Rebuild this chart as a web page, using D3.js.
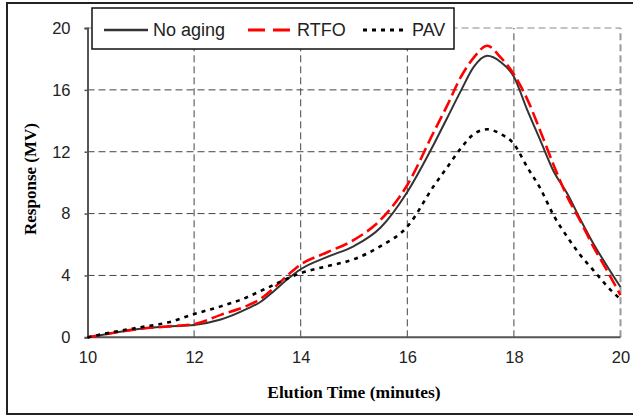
<!DOCTYPE html>
<html>
<head>
<meta charset="utf-8">
<script src="https://cdn.jsdelivr.net/npm/d3@7"></script>
<style>
  body { margin: 0; background: #fff; }
  svg text { font-family: Arial, "Liberation Sans", sans-serif; }
</style>
</head>
<body>
<div class="graph_wrapper"></div>
<script>
// elution time (minutes)
var times = [10, 10.5, 11, 11.5, 12, 12.5, 13, 13.25, 13.5, 13.75, 14, 14.5, 15, 15.5, 16, 16.5, 16.75, 17, 17.25, 17.5, 17.75, 18, 18.25, 18.5, 18.75, 19, 19.25, 19.5, 19.75, 20];
var noAging = [0, 0.3, 0.56, 0.7, 0.8, 1.15, 1.85, 2.3, 3.0, 3.75, 4.4, 5.2, 5.9, 7.1, 9.4, 12.5, 14.2, 15.9, 17.5, 18.2, 17.8, 16.85, 14.7, 12.7, 10.7, 9.3, 7.6, 6.0, 4.6, 3.25];
var rtfo = [0, 0.3, 0.55, 0.7, 0.85, 1.45, 2.05, 2.5, 3.2, 4.0, 4.7, 5.5, 6.3, 7.6, 9.85, 13.3, 15.0, 16.8, 18.1, 18.85, 18.1, 17.0, 15.4, 13.3, 11.1, 9.1, 7.5, 5.8, 4.3, 2.73];
var pav = [0, 0.35, 0.65, 0.95, 1.5, 2.0, 2.6, 3.0, 3.4, 3.8, 4.15, 4.6, 5.05, 5.9, 7.15, 9.8, 11.0, 12.2, 13.15, 13.45, 13.15, 12.5, 11.0, 9.6, 7.85, 6.5, 5.3, 4.3, 3.3, 2.45];
var seriesNames = ['No aging', 'RTFO', 'PAV'];
var xTicks = [10, 12, 14, 16, 18, 20];
var yTicks = [0, 4, 8, 12, 16, 20];

var width = 633;
var height = 416;
var margin = { left: 87.5, right: 12.5, top: 28, bottom: 78.7 };

var styles = [
  { color: '#333', width: 2, dash: null },
  { color: '#ff0000', width: 2.6, dash: '13,5' },
  { color: '#000', width: 2.6, dash: '4,5' }
];

var svg = d3.select('.graph_wrapper').append('svg')
  .attr('width', width).attr('height', height);

// outer frame
svg.append('rect').attr('x', 7).attr('y', 3).attr('width', 650).attr('height', 411)
  .attr('fill', 'none').attr('stroke', '#222').attr('stroke-width', 2);

var x = d3.scaleLinear().domain([10, 20]).range([margin.left, width - margin.right]);
var y = d3.scaleLinear().domain([0, 20]).range([height - margin.bottom, margin.top]);

// grid
svg.append('g').selectAll('line').data(yTicks.slice(1)).enter().append('line')
  .attr('x1', x(10)).attr('x2', x(20))
  .attr('y1', function (d) { return y(d); }).attr('y2', function (d) { return y(d); })
  .attr('stroke', function (d) { return d === 20 ? '#888' : '#444'; })
  .attr('stroke-width', 1).attr('stroke-dasharray', '7,4');

svg.append('g').selectAll('line').data(xTicks.slice(1)).enter().append('line')
  .attr('y1', y(0)).attr('y2', y(20))
  .attr('x1', function (d) { return x(d); }).attr('x2', function (d) { return x(d); })
  .attr('stroke', function (d) { return d === 20 ? '#999' : '#444'; })
  .attr('stroke-width', function (d) { return d === 20 ? 2 : 1; })
  .attr('stroke-dasharray', '7,4');

// axes
var yAxis = svg.append('g').attr('transform', 'translate(' + x(10) + ',0)')
  .call(d3.axisLeft(y).tickValues(yTicks).tickSize(3).tickPadding(14));
var xAxis = svg.append('g').attr('transform', 'translate(0,' + y(0) + ')')
  .call(d3.axisBottom(x).tickValues(xTicks).tickSize(0).tickPadding(14));

[yAxis, xAxis].forEach(function (a) {
  a.select('.domain').attr('stroke', '#555').attr('stroke-width', 2);
  a.selectAll('.tick line').attr('stroke', '#555').attr('stroke-width', 1.5);
  a.selectAll('text').attr('font-size', 16.5).attr('fill', '#222')
    .style('font-family', 'Arial, "Liberation Sans", sans-serif');
});
xAxis.select('.domain').attr('d', 'M' + x(10) + ',0H' + x(20));

// series
var line = d3.line()
  .x(function (d) { return x(d[0]); })
  .y(function (d) { return y(d[1]); })
  .curve(d3.curveMonotoneX);

var allSeries = [noAging, rtfo, pav];
allSeries.forEach(function (vals, i) {
  svg.append('path')
    .datum(times.map(function (t, j) { return [t, vals[j]]; }))
    .attr('d', line)
    .attr('fill', 'none')
    .attr('stroke', styles[i].color)
    .attr('stroke-width', styles[i].width)
    .attr('stroke-dasharray', styles[i].dash);
});

// legend
var legend = svg.append('g');
legend.append('rect').attr('x', 92).attr('y', 8).attr('width', 362).attr('height', 41)
  .attr('fill', '#fff').attr('stroke', '#111').attr('stroke-width', 1.5);
var legendX = [104, 248, 363];
seriesNames.forEach(function (name, i) {
  legend.append('line')
    .attr('x1', legendX[i]).attr('x2', legendX[i] + 44)
    .attr('y1', 30).attr('y2', 30)
    .attr('stroke', styles[i].color).attr('stroke-width', styles[i].width + 0.4)
    .attr('stroke-dasharray', i === 1 ? '17,8' : styles[i].dash);
  legend.append('text')
    .attr('x', legendX[i] + 49).attr('y', 36)
    .attr('font-size', 18).attr('fill', '#222')
    .text(name);
});

// titles
svg.append('text')
  .attr('x', x(15)).attr('y', 398)
  .attr('text-anchor', 'middle')
  .style('font-family', '"Liberation Serif", "Times New Roman", serif')
  .attr('font-weight', 'bold').attr('font-size', 17.5)
  .text('Elution Time (minutes)');

svg.append('text')
  .attr('transform', 'translate(36,179) rotate(-90)')
  .attr('text-anchor', 'middle')
  .style('font-family', '"Liberation Serif", "Times New Roman", serif')
  .attr('font-weight', 'bold').attr('font-size', 17)
  .text('Response  (MV)');
</script>
</body>
</html>
